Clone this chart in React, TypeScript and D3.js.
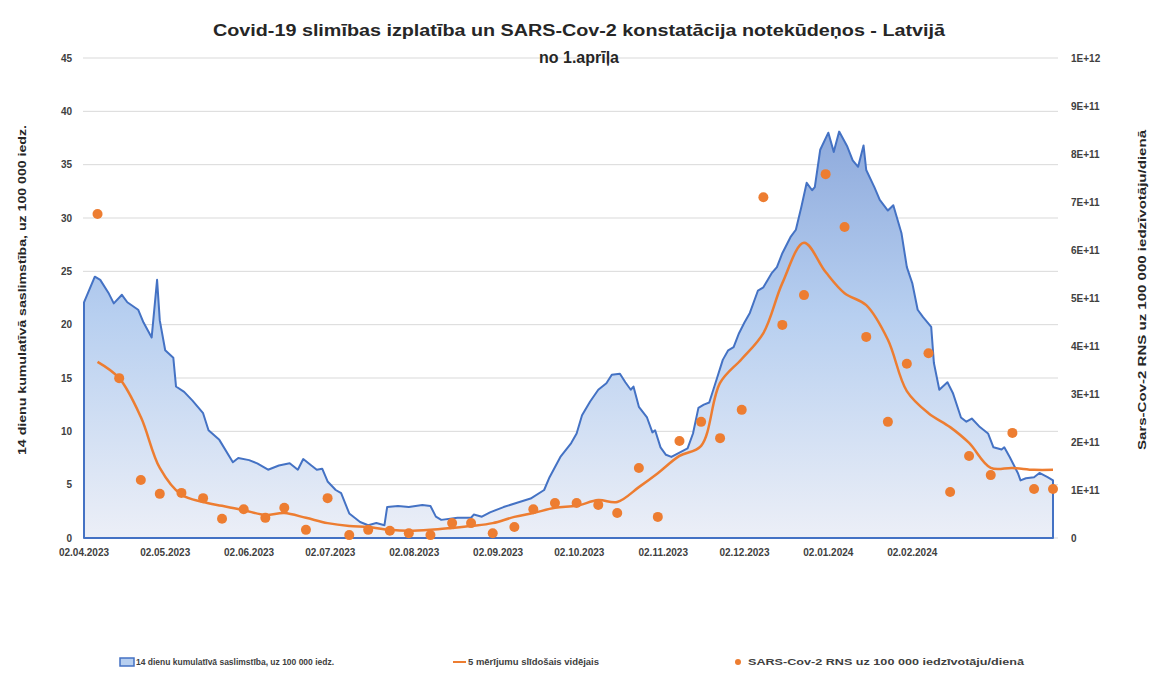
import React from "react";
import * as d3 from "d3";

const titleLines = [
  "Covid-19 slimības izplatība un SARS-Cov-2 konstatācija notekūdeņos - Latvijā",
  "no 1.aprīļa",
];
const leftAxisTitle = "14 dienu kumulatīvā saslimstība, uz 100 000 iedz.";
const rightAxisTitle = "Sars-Cov-2 RNS uz 100 000 iedzīvotāju/dienā";
const legendLabels = [
  "14 dienu kumulatīvā saslimstība, uz 100 000 iedz.",
  "5 mērījumu slīdošais vidējais",
  "SARS-Cov-2 RNS uz 100 000 iedzīvotāju/dienā",
];

const xTickDates = [
  "2023-04-02", "2023-05-02", "2023-06-02", "2023-07-02", "2023-08-02", "2023-09-02",
  "2023-10-02", "2023-11-02", "2023-12-02", "2024-01-02", "2024-02-02",
];
const leftTicks = [0, 5, 10, 15, 20, 25, 30, 35, 40, 45];
const rightTicks = [0, 1e11, 2e11, 3e11, 4e11, 5e11, 6e11, 7e11, 8e11, 9e11, 1e12];

// 14-day cumulative incidence (left axis)
const incidenceDates = [
  "2023-04-02","2023-04-06","2023-04-08","2023-04-11","2023-04-13","2023-04-16","2023-04-18","2023-04-22","2023-04-24","2023-04-27",
  "2023-04-29","2023-04-30","2023-05-02","2023-05-05","2023-05-06","2023-05-09","2023-05-12","2023-05-16","2023-05-18","2023-05-22",
  "2023-05-27","2023-05-29","2023-06-02","2023-06-05","2023-06-09","2023-06-13","2023-06-17","2023-06-20","2023-06-22","2023-06-25",
  "2023-06-27","2023-06-29","2023-07-01","2023-07-04","2023-07-06","2023-07-09","2023-07-13","2023-07-16","2023-07-19","2023-07-22",
  "2023-07-23","2023-07-27","2023-07-31","2023-08-05","2023-08-08","2023-08-10","2023-08-12","2023-08-18","2023-08-23","2023-08-24",
  "2023-08-27","2023-08-30","2023-09-04","2023-09-09","2023-09-14","2023-09-19","2023-09-21","2023-09-25","2023-09-29","2023-10-01",
  "2023-10-03","2023-10-06","2023-10-09","2023-10-12","2023-10-14","2023-10-17","2023-10-19","2023-10-21","2023-10-22","2023-10-24",
  "2023-10-27","2023-10-29","2023-10-30","2023-11-01","2023-11-03","2023-11-05","2023-11-08","2023-11-11","2023-11-13","2023-11-15",
  "2023-11-17","2023-11-19","2023-11-22","2023-11-24","2023-11-26","2023-11-28","2023-11-30","2023-12-02","2023-12-04","2023-12-07",
  "2023-12-09","2023-12-12","2023-12-14","2023-12-16","2023-12-19","2023-12-21","2023-12-23","2023-12-25","2023-12-27","2023-12-28",
  "2023-12-30","2024-01-02","2024-01-04","2024-01-06","2024-01-09","2024-01-11","2024-01-13","2024-01-15","2024-01-16","2024-01-19",
  "2024-01-21","2024-01-24","2024-01-26","2024-01-29","2024-01-31","2024-02-02","2024-02-04","2024-02-06","2024-02-09","2024-02-10",
  "2024-02-12","2024-02-15","2024-02-17","2024-02-20","2024-02-22","2024-02-24","2024-02-27","2024-03-01","2024-03-03","2024-03-06",
  "2024-03-07","2024-03-09","2024-03-12","2024-03-13","2024-03-15","2024-03-18","2024-03-20","2024-03-23","2024-03-25",
];
const incidenceValues = [
  22.1, 24.5, 24.2, 23.0, 22.0, 22.8, 22.1, 21.4, 20.2, 18.8,
  24.2, 20.4, 17.6, 16.9, 14.2, 13.7, 12.9, 11.7, 10.1, 9.2,
  7.1, 7.5, 7.3, 7.0, 6.4, 6.8, 7.0, 6.4, 7.4, 6.8,
  6.4, 6.5, 5.3, 4.5, 4.2, 2.3, 1.5, 1.2, 1.4, 1.2,
  2.9, 3.0, 2.9, 3.1, 3.0, 2.0, 1.7, 1.9, 1.9, 2.2,
  2.0, 2.4, 2.9, 3.3, 3.7, 4.5, 5.7, 7.6, 8.9, 9.8,
  11.5, 12.8, 13.9, 14.5, 15.3, 15.4, 14.6, 13.9, 14.2, 12.3,
  11.3, 9.9, 10.1, 8.5, 7.8, 7.6, 8.0, 8.4, 9.8, 12.2,
  12.5, 12.7, 15.1, 16.7, 17.6, 17.9, 19.2, 20.2, 21.1, 23.2,
  23.5, 24.8, 25.4, 26.7, 28.2, 28.9, 31.0, 33.3, 32.6, 32.9,
  36.4, 38.0, 36.2, 38.1, 36.7, 35.4, 34.8, 36.8, 34.5, 32.9,
  31.7, 30.7, 31.2, 28.6, 25.4, 23.9, 21.4, 20.7, 19.8, 16.4,
  13.9, 14.6, 13.6, 11.3, 10.9, 11.2, 10.4, 9.8, 8.5, 8.3,
  8.5, 7.6, 6.1, 5.4, 5.6, 5.7, 6.1, 5.7, 5.4,
];

// Wastewater measurements (right axis)
const rnsDates = [
  "2023-04-07","2023-04-15","2023-04-23","2023-04-30","2023-05-08","2023-05-16","2023-05-23","2023-05-31","2023-06-08","2023-06-15",
  "2023-06-23","2023-07-01","2023-07-09","2023-07-16","2023-07-24","2023-07-31","2023-08-08","2023-08-16","2023-08-23","2023-08-31",
  "2023-09-08","2023-09-15","2023-09-23","2023-10-01","2023-10-09","2023-10-16","2023-10-24","2023-10-31","2023-11-08","2023-11-16",
  "2023-11-23","2023-12-01","2023-12-09","2023-12-16","2023-12-24","2024-01-01","2024-01-08","2024-01-16","2024-01-24","2024-01-31",
  "2024-02-08","2024-02-16","2024-02-23","2024-03-02","2024-03-10","2024-03-18","2024-03-25",
];
const rnsValues = [
  6.75e11, 3.33e11, 1.21e11, 0.92e11, 0.94e11, 0.83e11, 0.40e11, 0.60e11, 0.42e11, 0.63e11,
  0.17e11, 0.83e11, 0.06e11, 0.17e11, 0.15e11, 0.10e11, 0.06e11, 0.31e11, 0.31e11, 0.10e11,
  0.23e11, 0.60e11, 0.73e11, 0.73e11, 0.69e11, 0.52e11, 1.46e11, 0.44e11, 2.02e11, 2.42e11,
  2.08e11, 2.67e11, 7.10e11, 4.44e11, 5.06e11, 7.58e11, 6.48e11, 4.19e11, 2.42e11, 3.63e11,
  3.85e11, 0.96e11, 1.71e11, 1.31e11, 2.19e11, 1.02e11, 1.02e11,
];
const rnsMovingAvg = [
  3.67e11, 3.33e11, 2.52e11, 1.46e11, 0.90e11, 0.75e11, 0.67e11, 0.58e11, 0.48e11, 0.52e11,
  0.42e11, 0.31e11, 0.25e11, 0.23e11, 0.17e11, 0.15e11, 0.17e11, 0.21e11, 0.25e11, 0.31e11,
  0.44e11, 0.52e11, 0.63e11, 0.67e11, 0.79e11, 0.75e11, 1.06e11, 1.35e11, 1.71e11, 1.92e11,
  3.23e11, 3.73e11, 4.27e11, 5.31e11, 6.15e11, 5.54e11, 5.10e11, 4.85e11, 4.13e11, 3.06e11,
  2.60e11, 2.31e11, 1.98e11, 1.46e11, 1.46e11, 1.42e11, 1.42e11,
];

const W = 1158;
const H = 679;
const FONT = "'Liberation Sans', Arial, sans-serif";
const TXT = "#404040";
const BLUE = "#4472c4";
const ORANGE = "#ed7d31";

const parse = d3.timeParse("%Y-%m-%d");
const fmtDate = d3.timeFormat("%d.%m.%Y");

function sci(v: number) {
  if (v === 0) return "0";
  const e = Math.floor(Math.log10(v) + 1e-9);
  const m = Math.round(v / Math.pow(10, e));
  return `${m}E+${e}`;
}

export default function App() {
  const plot = { left: 83, right: 1058, top: 58, bottom: 538 };
  const x = d3
    .scaleTime()
    .domain([parse("2023-04-02")!, parse("2024-03-25")!])
    .range([84, 1053]);
  const yL = d3.scaleLinear().domain([0, 45]).range([plot.bottom, plot.top]);
  const yR = d3.scaleLinear().domain([0, 1e12]).range([plot.bottom, plot.top]);

  const inc = incidenceDates.map((d, i) => ({ d: parse(d)!, v: incidenceValues[i] }));
  const rns = rnsDates.map((d, i) => ({ d: parse(d)!, v: rnsValues[i], a: rnsMovingAvg[i] }));

  const areaGen = d3
    .area<{ d: Date; v: number }>()
    .x((p) => x(p.d))
    .y0(yL(0))
    .y1((p) => yL(p.v));
  const areaPath = areaGen(inc)!;
  // closed outline including baseline
  const outlinePts: [number, number][] = [
    [x(inc[0].d), yL(0)],
    ...inc.map((p) => [x(p.d), yL(p.v)] as [number, number]),
    [x(inc[inc.length - 1].d), yL(0)],
  ];
  const outline = d3.line()(outlinePts)! + "Z";

  const avgLine = d3
    .line<{ d: Date; a: number }>()
    .x((p) => x(p.d))
    .y((p) => yR(p.a))
    .curve(d3.curveCatmullRom.alpha(0.5))(rns)!;

  const maxV = d3.max(incidenceValues)!;

  return (
    <svg
      width={W}
      height={H}
      style={{ position: "absolute", left: 0, top: 0, display: "block", background: "#fff" }}
      fontFamily={FONT}
    >
      <defs>
        <linearGradient
          id="areaGrad"
          gradientUnits="userSpaceOnUse"
          x1={0}
          x2={0}
          y1={yL(maxV)}
          y2={yL(0)}
        >
          <stop offset="0%" stopColor="#8eaadc" />
          <stop offset="45%" stopColor="#b7cff0" />
          <stop offset="100%" stopColor="#eceff7" />
        </linearGradient>
      </defs>

      {/* gridlines */}
      {leftTicks.map((t) => (
        <line
          key={"g" + t}
          x1={plot.left}
          x2={plot.right}
          y1={yL(t)}
          y2={yL(t)}
          stroke="#d9d9d9"
          strokeWidth={1}
        />
      ))}

      {/* area */}
      <path d={areaPath} fill="url(#areaGrad)" />
      <path d={outline} fill="none" stroke={BLUE} strokeWidth={2} strokeLinejoin="round" />

      {/* moving average */}
      <path d={avgLine} fill="none" stroke={ORANGE} strokeWidth={2.5} strokeLinejoin="round" />

      {/* dots */}
      {rns.map((p, i) => (
        <circle key={"c" + i} cx={x(p.d)} cy={yR(p.v)} r={5} fill={ORANGE} />
      ))}

      {/* left ticks */}
      {leftTicks.map((t) => (
        <text
          key={"l" + t}
          x={72}
          y={yL(t)}
          dy="0.35em"
          textAnchor="end"
          fontSize={10}
          fontWeight="bold"
          fill={TXT}
        >
          {t}
        </text>
      ))}

      {/* right ticks */}
      {rightTicks.map((t) => (
        <text
          key={"r" + t}
          x={1071}
          y={yR(t)}
          dy="0.35em"
          textAnchor="start"
          fontSize={10}
          fontWeight="bold"
          fill={TXT}
        >
          {sci(t)}
        </text>
      ))}

      {/* x tick labels */}
      {xTickDates.map((d) => (
        <text
          key={"x" + d}
          x={x(parse(d)!)}
          y={556}
          textAnchor="middle"
          fontSize={10}
          fontWeight="bold"
          fill={TXT}
        >
          {fmtDate(parse(d)!)}
        </text>
      ))}

      {/* title */}
      <text x={579} y={36} textAnchor="middle" fontSize={16} fontWeight="bold" fill="#262626"
        textLength={732} lengthAdjust="spacingAndGlyphs">
        {titleLines[0]}
      </text>
      <text x={579} y={63} textAnchor="middle" fontSize={16} fontWeight="bold" fill="#262626">
        {titleLines[1]}
      </text>

      {/* axis titles */}
      <text
        transform={`translate(26,${290}) rotate(-90)`}
        textAnchor="middle"
        fontSize={11.5}
        fontWeight="bold"
        fill="#262626"
        textLength={330}
        lengthAdjust="spacingAndGlyphs"
      >
        {leftAxisTitle}
      </text>
      <text
        transform={`translate(1146,${290}) rotate(-90)`}
        textAnchor="middle"
        fontSize={11.5}
        fontWeight="bold"
        fill="#262626"
        textLength={320}
        lengthAdjust="spacingAndGlyphs"
      >
        {rightAxisTitle}
      </text>

      {/* legend */}
      <rect x={120} y={658} width={14} height={8} fill="#b7cff0" stroke={BLUE} strokeWidth={1.5} />
      <text x={136} y={665} fontSize={9} fontWeight="bold" fill={TXT} textLength={198} lengthAdjust="spacingAndGlyphs">
        {legendLabels[0]}
      </text>
      <line x1={453} x2={466} y1={662} y2={662} stroke={ORANGE} strokeWidth={2} />
      <text x={468} y={665} fontSize={9} fontWeight="bold" fill={TXT} textLength={131} lengthAdjust="spacingAndGlyphs">
        {legendLabels[1]}
      </text>
      <circle cx={738} cy={662} r={3} fill={ORANGE} />
      <text x={748} y={665} fontSize={9} fontWeight="bold" fill={TXT} textLength={276} lengthAdjust="spacingAndGlyphs">
        {legendLabels[2]}
      </text>
    </svg>
  );
}
